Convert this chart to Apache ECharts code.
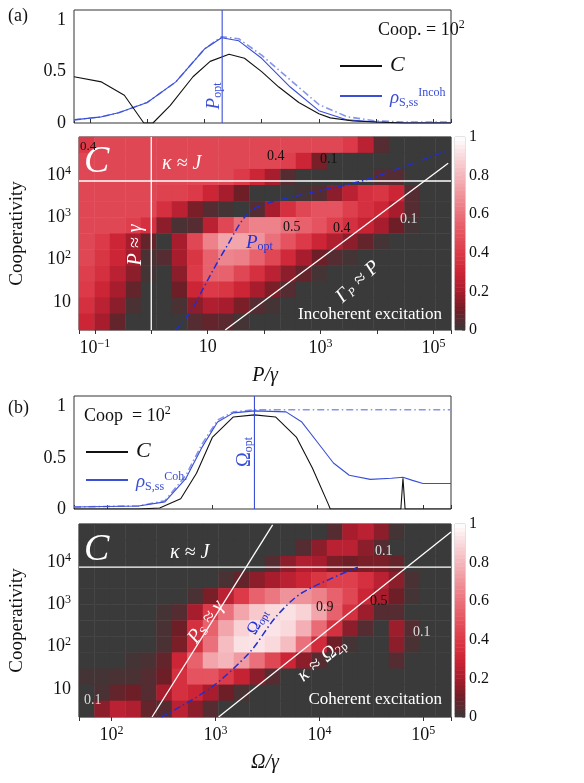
<!DOCTYPE html>
<html><head><meta charset="utf-8">
<script src="https://cdn.jsdelivr.net/npm/echarts@6/dist/echarts.min.js"></script>
<style>html,body{margin:0;padding:0;background:#fff}#c{width:584px;height:783px}</style>
</head><body><div id="c"></div>
<script>
// ---------- Data ----------
// Panel (a) top: log10(P/γ) and values at Coop = 10^2
const aLogX   = [-1.28,-0.8,-0.4,-0.06,0.1,0.4,0.8,1.1,1.43,1.7,2.0,2.3,2.65,3.0,3.2,3.6,4.0,4.5,5.31];
const aC      = [0.45,0.40,0.27,0.0,0.0,0.17,0.45,0.6,0.67,0.63,0.5,0.35,0.2,0.09,0.05,0.02,0.01,0.0,0.0];
const aRhoX   = [-1.28,-0.8,-0.5,0.0,0.5,1.0,1.3,1.6,2.0,2.5,3.0,3.5,4.0,4.5,5.31];
const aRho    = [0.03,0.06,0.1,0.2,0.4,0.72,0.83,0.8,0.63,0.35,0.12,0.03,0.01,0.0,0.0];
const aRhoDD  = [0.03,0.06,0.1,0.2,0.4,0.72,0.84,0.82,0.66,0.42,0.18,0.06,0.02,0.01,0.01];
const aPoptLog = 1.31;
// Panel (b) top: log10(Ω/γ)
const bLogX   = [1.687,2.3,2.5,2.7,2.85,3.0,3.2,3.4,3.6,3.8,3.95,4.1,4.12,4.79,4.81,4.83,5.266];
const bC      = [0,0,0.01,0.1,0.35,0.7,0.9,0.92,0.9,0.7,0.4,0.05,0,0,0.3,0,0];
const bRhoX   = [1.687,2.3,2.55,2.75,2.9,3.05,3.2,3.4,3.7,3.85,4.0,4.15,4.3,4.5,4.7,4.81,4.9,5.0,5.266];
const bRho    = [0.02,0.03,0.07,0.3,0.6,0.85,0.94,0.96,0.95,0.85,0.65,0.45,0.33,0.29,0.3,0.31,0.28,0.25,0.25];
const bRhoDD  = [0.02,0.03,0.08,0.33,0.63,0.87,0.95,0.97,0.97,0.97,0.97,0.97,0.97,0.97,0.97,0.97,0.97,0.97,0.97];
const bOoptLog = 3.40;
// Heatmap (a): 24 columns (log P/γ -1.28..5.31) x 12 rows (top = Coop 10^4.9 down to 10^0.34)
const heatA = [
[0.4,0.45,0.45,0.45,0.45,0.45,0.45,0.45,0.45,0.45,0.45,0.45,0.45,0.45,0.45,0.45,0.45,0.4,0.25,0.05,0,0,0,0],
[0.45,0.45,0.45,0.45,0.45,0.45,0.45,0.45,0.45,0.45,0.45,0.45,0.45,0.42,0.3,0.12,0,0,0,0,0,0,0,0],
[0.45,0.45,0.45,0.45,0.45,0.45,0.45,0.45,0.45,0.45,0.4,0.3,0.2,0.05,0,0,0,0,0,0.05,0.05,0,0,0],
[0.45,0.45,0.45,0.45,0.45,0.43,0.43,0.4,0.3,0.2,0.1,0,0,0,0.02,0.05,0.15,0.25,0.35,0.38,0.3,0.05,0,0],
[0.45,0.45,0.45,0.45,0.45,0.35,0.25,0.12,0.05,0.02,0,0.05,0.2,0.35,0.45,0.5,0.5,0.42,0.35,0.3,0.2,0.05,0,0],
[0.45,0.45,0.45,0.42,0.35,0.15,0.03,0.05,0.25,0.45,0.6,0.65,0.65,0.6,0.55,0.5,0.42,0.35,0.28,0.2,0.1,0.02,0,0],
[0.45,0.4,0.3,0.2,0.08,0,0.2,0.45,0.65,0.75,0.75,0.7,0.6,0.5,0.4,0.3,0.22,0.15,0.08,0.02,0,0,0,0],
[0.45,0.38,0.3,0.2,0.03,0.05,0.2,0.38,0.55,0.66,0.64,0.55,0.45,0.32,0.2,0.1,0.05,0.02,0,0,0,0,0,0],
[0.42,0.35,0.25,0.15,0.02,0,0.15,0.4,0.55,0.55,0.45,0.35,0.25,0.15,0.08,0.02,0,0,0,0,0,0,0,0],
[0.4,0.3,0.2,0.08,0,0,0.1,0.3,0.4,0.38,0.3,0.2,0.12,0.05,0,0,0,0,0,0,0,0,0,0],
[0.35,0.25,0.15,0.03,0,0,0.03,0.15,0.22,0.2,0.12,0.05,0.02,0,0,0,0,0,0,0,0,0,0,0],
[0.3,0.2,0.08,0,0,0,0,0.05,0.08,0.06,0.02,0,0,0,0,0,0,0,0,0,0,0,0,0]
];
// Heatmap (b): 24 columns (log Ω/γ 1.687..5.266) x 12 rows
const heatB = [
[0,0,0,0,0,0,0,0,0,0,0,0,0,0,0,0,0.05,0.2,0.25,0.15,0.02,0,0,0],
[0,0,0,0,0,0,0,0,0,0,0,0,0,0,0.05,0.15,0.25,0.25,0.15,0.05,0,0,0,0],
[0,0,0,0,0,0,0,0,0,0,0,0,0.05,0.15,0.22,0.2,0.12,0.1,0.12,0.12,0.08,0,0,0],
[0,0,0,0,0,0,0,0,0,0.03,0.08,0.15,0.2,0.25,0.3,0.38,0.42,0.42,0.35,0.25,0.15,0.03,0,0],
[0,0,0,0,0,0,0,0.03,0.12,0.25,0.4,0.55,0.62,0.7,0.7,0.65,0.55,0.45,0.3,0.2,0.1,0.02,0,0],
[0,0,0,0,0,0.02,0.05,0.2,0.4,0.6,0.75,0.85,0.9,0.92,0.88,0.75,0.55,0.35,0.18,0.05,0.05,0,0,0],
[0,0,0,0,0,0.03,0.1,0.35,0.55,0.75,0.88,0.93,0.93,0.9,0.78,0.58,0.35,0.15,0.05,0,0.18,0.05,0,0],
[0,0,0,0,0,0.03,0.12,0.35,0.6,0.82,0.92,0.93,0.9,0.82,0.6,0.33,0.1,0.02,0,0,0.15,0.03,0,0],
[0,0,0,0.02,0.03,0.08,0.3,0.55,0.75,0.8,0.72,0.6,0.45,0.3,0.15,0.05,0,0,0,0,0.05,0,0,0],
[0.02,0.02,0.03,0.03,0.05,0.1,0.35,0.5,0.5,0.4,0.28,0.15,0.05,0,0,0,0,0,0,0,0,0,0,0],
[0,0.03,0.08,0.1,0.05,0.2,0.35,0.3,0.2,0.1,0.03,0,0,0,0,0,0,0,0,0,0,0,0,0],
[0,0.15,0.25,0.22,0.08,0.05,0.25,0.15,0.05,0,0,0,0,0,0,0,0,0,0,0,0,0,0,0]
];
// Overlay lines in log10 coordinates [logX, logCoop]
const aPoptCurve = [[0.44,0.34],[0.69,0.76],[1.0,1.52],[1.30,2.23],[1.78,3.17],[2.65,3.53],[3.78,3.88],[5.26,4.59]];
const aGammaLine = [[1.31,0.34],[5.26,4.28]];
const aPgamma = 0.0, aKappaJ = 3.86;
const bOoptCurve = [[2.48,0.34],[2.95,1.02],[3.33,1.87],[3.58,2.70],[3.83,3.27],[4.37,3.88]];
const bPsLine = [[2.39,0.34],[3.55,4.88]];
const bKOLine = [[3.03,0.34],[5.266,4.71]];
const bKappaJ = 3.88;
const cbarBins = 50;

// ---------- Build ----------
const P = v => Math.pow(10, v);
const serif = 'Liberation Serif';
const colors = ['#3a3a3a','#6e1e27','#a81d2d','#cc2536','#dc3a48','#e4535f','#ea717b','#ef939b','#f4b6bb','#f9d9dc','#ffffff'];
function heatData(g){const d=[];g.forEach((row,j)=>row.forEach((v,i)=>d.push([i,g.length-1-j,v])));return d;}
const cols = Array.from({length:24},(_,i)=>i), rows = Array.from({length:12},(_,i)=>i);
const cb = Array.from({length:cbarBins},(_,i)=>i);
const cbData = cb.map(i=>[0,i,(i+0.5)/cbarBins]);
const supRich = {s:{fontSize:12,fontFamily:serif,verticalAlign:'top',padding:[0,0,9,0]}};
function decFmt(odd){return v=>{const e=Math.log10(v);const r=Math.round(e);if(Math.abs(e-r)>0.01)return '';if(odd&&Math.abs(r%2)!==1)return '';if(r===1)return '10';return '10{s|'+(r<0?'−'+(-r):r)+'}';};}
const pts = (xs,ys)=>xs.map((x,i)=>[P(x),ys[i]]);
const lpts = arr=>arr.map(p=>[P(p[0]),P(p[1])]);
const hiddenCat = (g,data,pos)=>({type:'category',gridIndex:g,data,show:false,boundaryGap:true,position:pos});
const tickFont = {fontFamily:serif,fontSize:18,color:'#111',rich:supRich};
function logX(g,min,max,labels,odd,name){return {type:'log',logBase:10,gridIndex:g,min:P(min),max:P(max),position:'bottom',
 axisLine:{show:false},axisTick:{show:true,inside:!labels,length:4,lineStyle:{color:'#333'}},splitLine:{show:false},
 axisLabel:labels?Object.assign({formatter:decFmt(odd),margin:8},tickFont):{show:false},
 name:name||'',nameLocation:'middle',nameGap:36,nameTextStyle:{fontFamily:serif,fontSize:20,fontStyle:'italic',color:'#111'}};}
function logY(g){return {type:'log',logBase:10,gridIndex:g,min:P(0.34),max:P(4.9),position:'left',axisLine:{show:false},
 axisTick:{show:false},splitLine:{show:false},axisLabel:Object.assign({formatter:decFmt(false),margin:8},tickFont),
 name:'Cooperativity',nameLocation:'middle',nameGap:52,nameTextStyle:{fontFamily:serif,fontSize:19,color:'#111'}};}
function valY(g,max){return {type:'value',gridIndex:g,min:0,max,interval:0.5,position:'left',axisLine:{show:false},axisTick:{show:false},splitLine:{show:false},
 axisLabel:Object.assign({formatter:v=>(Math.abs(v)<1e-9?'0':Math.abs(v-0.5)<1e-9?'0.5':Math.abs(v-1)<1e-9?'1':''),margin:8},tickFont)};}
function cbY(g){return {type:'value',gridIndex:g,min:0,max:1,interval:0.2,position:'right',axisLine:{show:false},
 axisTick:{show:true,inside:true,length:3,lineStyle:{color:'#888'}},splitLine:{show:false},
 axisLabel:{fontFamily:serif,fontSize:16,color:'#111',margin:4,formatter:v=>(v===0||v===1)?String(v):v.toFixed(1)}};}
const gridBorder = {show:true,borderColor:'#333',borderWidth:1,backgroundColor:'transparent'};
const grids = [
 Object.assign({left:74,top:10,width:377,height:113},gridBorder),
 Object.assign({left:74,top:137,width:377,height:193},gridBorder),
 Object.assign({left:455,top:137,width:10,height:193},gridBorder,{borderColor:'#bbb'}),
 Object.assign({left:74,top:396,width:377,height:113},gridBorder),
 Object.assign({left:74,top:524,width:377,height:193},gridBorder),
 Object.assign({left:455,top:524,width:10,height:193},gridBorder,{borderColor:'#bbb'})
];
const xAxes = [logX(0,-1.28,5.31,false), hiddenCat(1,cols,'top'), logX(1,-1.28,5.31,true,true,'P/γ'), hiddenCat(2,['c'],'bottom'),
  logX(3,1.687,5.266,false), hiddenCat(4,cols,'top'), logX(4,1.687,5.266,true,false,'Ω/γ'), hiddenCat(5,['c'],'bottom')];
const yAxes = [valY(0,1.1), hiddenCat(1,rows,'right'), logY(1), hiddenCat(2,cb,'left'), cbY(2),
  valY(3,1.105), hiddenCat(4,rows,'right'), logY(4), hiddenCat(5,cb,'left'), cbY(5)];
const blue='#3a4ed6', lblue='#8595ec';
function line(xi,yi,data,color,w,type,z){return {type:'line',xAxisIndex:xi,yAxisIndex:yi,data,symbol:'none',silent:true,z:z||3,
  lineStyle:{color,width:w,type:type||'solid'}};}
const dd=[7,3,1.5,3];
const series = [
 {type:'heatmap',xAxisIndex:1,yAxisIndex:1,data:heatData(heatA),progressive:0,silent:true},
 {type:'heatmap',xAxisIndex:3,yAxisIndex:3,data:cbData,progressive:0,silent:true},
 {type:'heatmap',xAxisIndex:5,yAxisIndex:6,data:heatData(heatB),progressive:0,silent:true},
 {type:'heatmap',xAxisIndex:7,yAxisIndex:8,data:cbData,progressive:0,silent:true},
 // top (a)
 line(0,0,pts(aRhoX,aRhoDD),lblue,1.6,dd),
 line(0,0,pts(aRhoX,aRho),blue,1.1),
 line(0,0,pts(aLogX,aC),'#111',1.1),
 line(0,0,[[P(aPoptLog),0],[P(aPoptLog),1.1]],blue,1.1),
 // heat (a) overlays
 line(2,2,[[P(aPgamma),P(0.34)],[P(aPgamma),P(4.9)]],'#fff',1.3),
 line(2,2,[[P(-1.28),P(aKappaJ)],[P(5.31),P(aKappaJ)]],'#fff',1.3),
 line(2,2,lpts(aGammaLine),'#fff',1.3),
 Object.assign(line(2,2,lpts(aPoptCurve),'#1f2fd0',1.5,dd),{smooth:0.3}),
 // top (b)
 line(4,5,pts(bRhoX,bRhoDD),lblue,1.6,dd),
 line(4,5,pts(bRhoX,bRho),blue,1.1),
 line(4,5,pts(bLogX,bC),'#111',1.1),
 line(4,5,[[P(bOoptLog),0],[P(bOoptLog),1.105]],blue,1.1),
 // heat (b) overlays
 line(6,7,[[P(1.687),P(bKappaJ)],[P(5.266),P(bKappaJ)]],'#fff',1.3),
 line(6,7,lpts(bPsLine),'#fff',1.3),
 line(6,7,lpts(bKOLine),'#fff',1.3),
 Object.assign(line(6,7,lpts(bOoptCurve),'#1f2fd0',1.5,dd),{smooth:0.3})
];
function T(x,y,text,o){o=o||{};return {type:'text',x,y,rotation:o.rot||0,z:20,silent:true,style:{text,fill:o.color||'#111',
  font:(o.italic?'italic ':'')+(o.size||18)+'px '+serif,textAlign:o.align||'left',textVerticalAlign:'middle',rich:o.rich}};}
const subRich = c=>({i:{fontStyle:'italic',fontSize:19,fontFamily:serif,fill:c},sub:{fontSize:12,fontFamily:serif,fill:c,verticalAlign:'bottom',padding:[8,0,0,0]},
  sup:{fontSize:12,fontFamily:serif,fill:c,verticalAlign:'top',padding:[0,0,10,0]},n:{fontSize:19,fontFamily:serif,fill:c}});
const W='#fff';
const graphics = [
 T(8,16,'(a)',{size:18}), T(8,408,'(b)',{size:18}),
 // legend (a)
 T(378,30,'Coop. = 10{sup|2}',{size:18,rich:subRich('#111')}),
 {type:'line',shape:{x1:340,y1:66,x2:382,y2:66},style:{stroke:'#111',lineWidth:2}},
 T(390,65,'C',{size:22,italic:true}),
 {type:'line',shape:{x1:340,y1:96,x2:382,y2:96},style:{stroke:blue,lineWidth:2}},
 T(390,98,'{i|ρ}{sub|S,ss}{sup|Incoh}',{rich:subRich(blue)}),
 T(214,96,'{i|P}{sub|opt}',{rot:Math.PI/2,align:'center',rich:subRich(blue)}),
 // heat (a) labels
 T(84,162,'C',{size:38,italic:true,color:W}),
 T(162,164,'κ ≈ J',{size:20,italic:true,color:W}),
 T(136,245,'P ≈ γ',{size:20,italic:true,color:W,rot:Math.PI/2,align:'center'}),
 T(358,282,'Γ{sub|P} ≈ P',{color:W,rot:Math.PI/4.2,align:'center',rich:{sub:{fontSize:12,fill:W,fontStyle:'italic',fontFamily:serif,verticalAlign:'bottom',padding:[8,0,0,0]}},italic:true,size:20}),
 T(442,315,'Incoherent excitation',{size:17,color:W,align:'right'}),
 T(80,147,'0.4',{size:13}), T(267,156,'0.4',{size:14}), T(320,159,'0.1',{size:14}),
 T(283,227,'0.5',{size:14}), T(333,228,'0.4',{size:14}), T(400,219,'0.1',{size:14,color:'#ddd'}),
 T(246,243,'{i|P}{sub|opt}',{rich:subRich('#2433d6')}),
 // legend (b)
 T(84,416,'Coop  = 10{sup|2}',{size:18,rich:subRich('#111')}),
 {type:'line',shape:{x1:86,y1:452,x2:128,y2:452},style:{stroke:'#111',lineWidth:2}},
 T(136,451,'C',{size:22,italic:true}),
 {type:'line',shape:{x1:86,y1:480,x2:128,y2:480},style:{stroke:blue,lineWidth:2}},
 T(136,482,'{i|ρ}{sub|S,ss}{sup|Coh.}',{rich:subRich(blue)}),
 T(245,452,'Ω{sub|opt}',{rot:Math.PI/2,align:'center',rich:subRich(blue),size:20,color:blue}),
 // heat (b) labels
 T(84,550,'C',{size:38,italic:true,color:W}),
 T(170,553,'κ ≈ J',{size:20,italic:true,color:W}),
 T(206,622,'P{sub|S} ≈ γ',{color:W,italic:true,size:20,rot:Math.PI*0.3,align:'center',rich:{sub:{fontSize:12,fill:W,fontFamily:serif,verticalAlign:'bottom',padding:[8,0,0,0]}}}),
 T(258,622,'Ω{sub|opt}',{color:'#2433d6',size:17,rot:Math.PI*0.33,align:'center',rich:{sub:{fontSize:11,fill:'#2433d6',fontFamily:serif,verticalAlign:'bottom',padding:[7,0,0,0]}}}),
 T(316,607,'0.9',{size:14}), T(370,601,'0.5',{size:14}),
 T(375,551,'0.1',{size:14,color:'#ddd'}), T(413,632,'0.1',{size:14,color:'#ddd'}), T(84,700,'0.1',{size:14,color:'#ddd'}),
 T(322,660,'κ ≈ Ω{sub|2p}',{color:W,italic:true,size:20,rot:Math.PI*0.22,align:'center',rich:{sub:{fontSize:12,fill:W,fontFamily:serif,verticalAlign:'bottom',padding:[8,0,0,0]}}}),
 T(442,700,'Coherent excitation',{size:17,color:W,align:'right'})
];
const chart = echarts.init(document.getElementById('c'),null,{renderer:'canvas'});
chart.setOption({animation:false,backgroundColor:'#fff',grid:grids,xAxis:xAxes,yAxis:yAxes,
 visualMap:{show:false,type:'continuous',min:0,max:1,seriesIndex:[0,1,2,3],dimension:2,inRange:{color:colors}},
 series,graphic:graphics});
</script></body></html>
